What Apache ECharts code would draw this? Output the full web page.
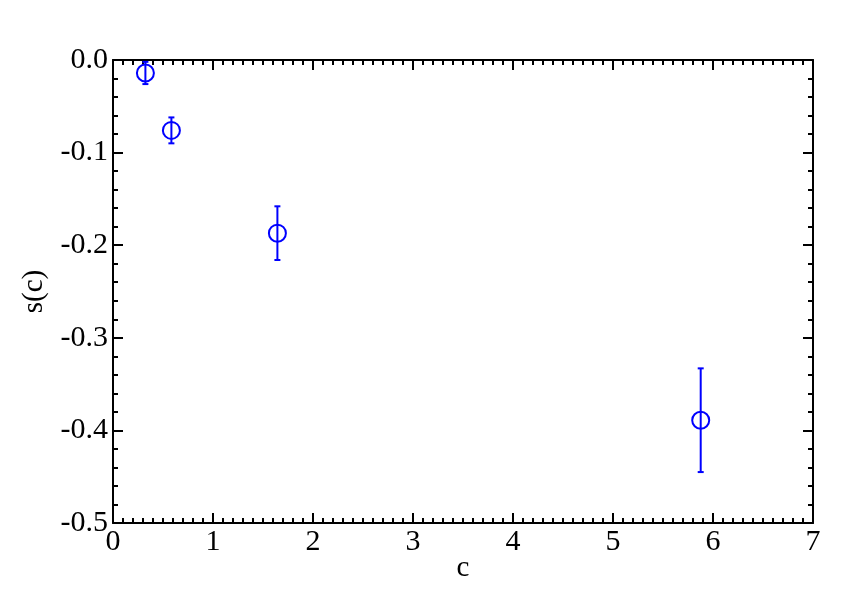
<!DOCTYPE html>
<html>
<head>
<meta charset="utf-8">
<script src="https://cdn.jsdelivr.net/npm/echarts@6/dist/echarts.min.js"></script>
<style>
  html, body { margin: 0; padding: 0; background: #fff; }
  #chart { width: 842px; height: 595px; }
</style>
</head>
<body>
<div id="chart"></div>
<script>
    // values
    var cVals = [0.324, 0.584, 1.644, 5.877];
    var sVals = [-0.014, -0.076, -0.187, -0.389];
    var sErr = [0.012, 0.014, 0.029, 0.056];

    var font = 'Liberation Serif';
    var blue = '#0000ff';

    var points = cVals.map(function (c, i) { return [c, sVals[i]]; });
    var bars = cVals.map(function (c, i) { return [c, sVals[i] - sErr[i], sVals[i] + sErr[i]]; });

    var myChart = echarts.init(document.getElementById('chart'));

    var tickIn = {show: true, inside: true, length: 10, lineStyle: {color: '#000', width: 2}};

    var option = {
        animation: false,
        backgroundColor: '#fff',
        grid: {left: 113, top: 60, width: 700, height: 463, outerBoundsMode: 'none', containLabel: false},
        xAxis: [
            {
                type: 'value', min: 0, max: 7, interval: 1,
                name: 'c', nameLocation: 'middle', nameGap: 31, nameMoveOverlap: false,
                nameTextStyle: {fontFamily: font, fontSize: 29, color: '#000'},
                axisLine: {show: true, onZero: false, lineStyle: {color: '#000', width: 2}},
                axisTick: tickIn,
                minorTick: {show: true, splitNumber: 10, length: 5, lineStyle: {color: '#000', width: 2}},
                axisLabel: {fontFamily: font, fontSize: 30, color: '#000', margin: 4},
                splitLine: {show: false}
            },
            {
                type: 'value', min: 0, max: 7, interval: 1, position: 'top',
                axisLine: {show: true, onZero: false, lineStyle: {color: '#000', width: 2}},
                axisTick: tickIn,
                minorTick: {show: true, splitNumber: 10, length: 5, lineStyle: {color: '#000', width: 2}},
                axisLabel: {show: false},
                splitLine: {show: false}
            }
        ],
        yAxis: [
            {
                type: 'value', min: -0.5, max: 0, interval: 0.1,
                name: 's(c)', nameLocation: 'middle', nameGap: 64, nameMoveOverlap: false,
                nameTextStyle: {fontFamily: font, fontSize: 29, color: '#000'},
                axisLine: {show: true, onZero: false, lineStyle: {color: '#000', width: 2}},
                axisTick: tickIn,
                minorTick: {show: true, splitNumber: 5, length: 5, lineStyle: {color: '#000', width: 2}},
                axisLabel: {
                    fontFamily: font, fontSize: 30, color: '#000', margin: 5,
                    formatter: function (v) { return v.toFixed(1); }
                },
                splitLine: {show: false}
            },
            {
                type: 'value', min: -0.5, max: 0, interval: 0.1, position: 'right',
                axisLine: {show: true, onZero: false, lineStyle: {color: '#000', width: 2}},
                axisTick: tickIn,
                minorTick: {show: true, splitNumber: 5, length: 5, lineStyle: {color: '#000', width: 2}},
                axisLabel: {show: false},
                splitLine: {show: false}
            }
        ],
        series: [
            {
                // error bars
                type: 'custom',
                data: bars,
                z: 2,
                renderItem: function (params, api) {
                    var lo = api.coord([api.value(0), api.value(1)]);
                    var hi = api.coord([api.value(0), api.value(2)]);
                    var w = 3;
                    var st = {stroke: blue, lineWidth: 2};
                    return {
                        type: 'group',
                        children: [
                            {type: 'line', shape: {x1: lo[0], y1: lo[1], x2: hi[0], y2: hi[1]}, style: st},
                            {type: 'line', shape: {x1: lo[0] - w, y1: lo[1], x2: lo[0] + w, y2: lo[1]}, style: st},
                            {type: 'line', shape: {x1: hi[0] - w, y1: hi[1], x2: hi[0] + w, y2: hi[1]}, style: st}
                        ]
                    };
                }
            },
            {
                type: 'scatter',
                data: points,
                symbol: 'circle',
                symbolSize: 17,
                z: 3,
                itemStyle: {color: 'rgba(0,0,0,0)', borderColor: blue, borderWidth: 2, opacity: 1}
            }
        ]
    };
    myChart.setOption(option);
</script>
</body>
</html>
